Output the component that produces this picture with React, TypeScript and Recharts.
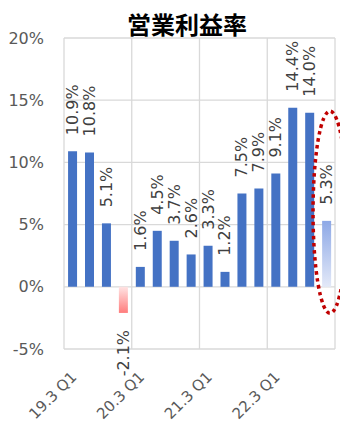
import { Bar, BarChart, CartesianGrid, Cell, LabelList, ReferenceDot, XAxis, YAxis } from "recharts"

const quarters = [
  "19.3 Q1", "19.3 Q2", "19.3 Q3", "19.3 Q4",
  "20.3 Q1", "20.3 Q2", "20.3 Q3", "20.3 Q4",
  "21.3 Q1", "21.3 Q2", "21.3 Q3", "21.3 Q4",
  "22.3 Q1", "22.3 Q2", "22.3 Q3", "22.3 Q4",
]
const operatingMargin = [10.9, 10.8, 5.1, -2.1, 1.6, 4.5, 3.7, 2.6, 3.3, 1.2, 7.5, 7.9, 9.1, 14.4, 14.0, 5.3]
const yTicks = [-5, 0, 5, 10, 15, 20]
// fiscal-year boundaries for the vertical gridlines (index on a 0..16 scale)
const yearBoundaries = [0, 4, 8, 12, 16]
const highlightQuarter = "22.3 Q4"
const highlightCenter = 6

const FONT = "'DejaVu Sans', sans-serif"

const chartData = quarters.map((q, i) => ({ quarter: q, margin: operatingMargin[i], pos: i + 0.5 }))

const QuarterTick = ({ x, y, payload }: any) => {
  const tx = x + 5
  const ty = y + 21
  return (
    <text
      x={tx}
      y={ty}
      transform={`rotate(-45 ${tx} ${ty})`}
      textAnchor="end"
      fill="#595959"
      fontSize={15}
      fontFamily={FONT}
    >
      {payload.value}
    </text>
  )
}

const ValueLabel = ({ x, y, width, height, value }: any) => {
  const cx = x + width / 2
  const top = Math.min(y, y + height)
  const bottom = Math.max(y, y + height)
  const negative = value < 0
  const ly = negative ? bottom + 17 : top - 16
  return (
    <text
      x={cx}
      y={ly}
      transform={`rotate(-90 ${cx} ${ly})`}
      textAnchor={negative ? "end" : "start"}
      dominantBaseline="central"
      fill="#404040"
      fontSize={16}
      fontFamily={FONT}
    >
      {`${Number(value).toFixed(1)}%`}
    </text>
  )
}

const DottedEllipse = ({ cx, cy }: any) => (
  <ellipse
    cx={cx + 3.5}
    cy={cy}
    rx={17}
    ry={101}
    fill="none"
    stroke="#C00000"
    strokeWidth={3.5}
    strokeDasharray="3.5 3.5"
  />
)

const App = () => {
  return (
    <div style={{ position: "absolute", left: 0, top: 0, width: 340, height: 425, background: "#fff" }}>
      <div
        style={{
          position: "absolute",
          left: 187,
          top: 10,
          transform: "translateX(-50%)",
          fontFamily: "'Noto Sans CJK JP', sans-serif",
          fontWeight: 700,
          fontSize: 24,
          lineHeight: "28px",
          whiteSpace: "nowrap",
          color: "#000",
          zIndex: 1,
        }}
      >
        営業利益率
      </div>
      <BarChart
        width={340}
        height={425}
        data={chartData}
        margin={{ top: 38, right: 5, bottom: 0, left: 0 }}
        barCategoryGap="24%"
      >
        <defs>
          <linearGradient id="negFill" x1="0" y1="0" x2="0" y2="1">
            <stop offset="0%" stopColor="#FFE3E3" />
            <stop offset="100%" stopColor="#FF7C7C" />
          </linearGradient>
          <linearGradient id="lastFill" x1="0" y1="0" x2="0" y2="1">
            <stop offset="0%" stopColor="#8DA8E6" />
            <stop offset="100%" stopColor="#E3E9F8" />
          </linearGradient>
        </defs>
        <CartesianGrid stroke="#D9D9D9" strokeWidth={1.3} xAxisId="years" />
        <XAxis
          dataKey="quarter"
          interval={3}
          height={76}
          axisLine={false}
          tickLine={false}
          tick={<QuarterTick />}
        />
        <XAxis
          xAxisId="years"
          type="number"
          dataKey="pos"
          domain={[0, 16]}
          ticks={yearBoundaries}
          hide
        />
        <YAxis
          domain={[-5, 20]}
          ticks={yTicks}
          width={64}
          axisLine={false}
          tickLine={false}
          tickMargin={14}
          tickFormatter={(v) => `${v}%`}
          tick={{ fill: "#595959", fontSize: 16, fontFamily: FONT }}
        />
        <Bar dataKey="margin" fill="#4472C4" isAnimationActive={false}>
          {chartData.map((d, i) => (
            <Cell
              key={d.quarter}
              fill={d.margin < 0 ? "url(#negFill)" : i === chartData.length - 1 ? "url(#lastFill)" : "#4472C4"}
            />
          ))}
          <LabelList dataKey="margin" content={<ValueLabel />} />
        </Bar>
        <ReferenceDot
          x={highlightQuarter}
          y={highlightCenter}
          ifOverflow="visible"
          shape={<DottedEllipse />}
        />
      </BarChart>
    </div>
  )
}

export default App
